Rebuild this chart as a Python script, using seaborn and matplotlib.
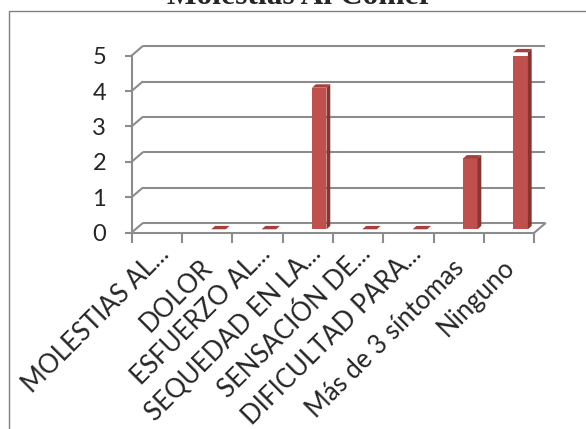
import numpy as np
import pandas as pd
import matplotlib
matplotlib.use("Agg")
import matplotlib.pyplot as plt
import matplotlib.transforms as mtransforms
from matplotlib.patches import Polygon, Rectangle
import seaborn as sns

categories = ["MOLESTIAS AL...", "DOLOR", "ESFUERZO AL...", "SEQUEDAD EN LA...",
              "SENSACIÓN DE...", "DIFICULTAD PARA...", "Más de 3 síntomas", "Ninguno"]
values = [np.nan, 0, 0, 4, 0, 0, 2, 5]
y_ticks = [0, 1, 2, 3, 4, 5]
title = "Molestias Al Comer"

sns.set_style("white")
plt.rcParams['font.family'] = ['Lato', 'DejaVu Sans']

W, H = 586, 429
fig = plt.figure(figsize=(W / 100, H / 100), dpi=100)
x0_px, x1_px = 131.5, 534.3
y0_px, y5_px = 232.7, 55.7
ax = fig.add_axes([x0_px / W, 1 - y0_px / H, (x1_px - x0_px) / W, (y0_px - y5_px) / H])

n = len(categories)
cat_px = (x1_px - x0_px) / n
unit_px = (y0_px - y5_px) / 5

grid_col = "#8c8c8c"
front_col = "#C0504D"
side_col = "#8A3432"
top_col = "#A4413E"

df = pd.DataFrame({"cat": categories, "val": values}).dropna()
sns.barplot(data=df, x="cat", y="val", order=categories, color=front_col,
            saturation=1, width=14.5 / cat_px, ax=ax, linewidth=0, zorder=5)

ax.set_xlim(-0.5, n - 0.5)
ax.set_ylim(0, 5)

# depth offsets
ddx = 11 / cat_px
ddy = 9.4 / unit_px
for y in y_ticks:
    ax.plot([-0.5 + ddx, n - 0.5 + ddx], [y + ddy, y + ddy], color=grid_col,
            lw=1.5, clip_on=False, zorder=1, solid_capstyle='butt')
    ax.plot([-0.5, -0.5 + ddx], [y, y + ddy], color=grid_col, lw=1.5,
            clip_on=False, zorder=1)
ax.plot([n - 0.5, n - 0.5 + ddx], [0, ddy], color=grid_col, lw=1.5,
        clip_on=False, zorder=1)

# pseudo-3D bars
bx = 11.5 / cat_px
by = 3.4 / unit_px
sdx = 3.8 / cat_px
sdy = 3.4 / unit_px
for p in ax.patches:
    h = p.get_height()
    if not np.isfinite(h):
        continue
    p.set_x(p.get_x() + bx)
    p.set_y(by)
    xl = p.get_x()
    w = p.get_width()
    b = by
    t = by + h
    top = Polygon([[xl, t], [xl + w, t], [xl + w + sdx, t + sdy], [xl + sdx, t + sdy]],
                  closed=True, facecolor=top_col, edgecolor='none', clip_on=False, zorder=6)
    ax.add_patch(top)
    if h > 0:
        side = Polygon([[xl + w, b], [xl + w, t], [xl + w + sdx, t + sdy], [xl + w + sdx, b + sdy]],
                       closed=True, facecolor=side_col, edgecolor='none', clip_on=False, zorder=6)
        ax.add_patch(side)

# spines / axes
for s in ["top", "right"]:
    ax.spines[s].set_visible(False)
for s in ["left", "bottom"]:
    ax.spines[s].set_color(grid_col)
    ax.spines[s].set_linewidth(1.5)
    ax.spines[s].set_zorder(2)

ax.set_yticks(y_ticks)
ax.set_yticklabels([str(v) for v in y_ticks], fontsize=17)
ax.tick_params(axis='y', length=5.3, width=1.5, color=grid_col, pad=13, left=True)

ax.set_xticks(range(n))
ax.set_xticks(np.arange(-0.5, n, 1.0), minor=True)
ax.set_xticklabels(categories, rotation=45, ha='right', va='center',
                   rotation_mode='anchor', fontsize=18.5)
ax.tick_params(axis='x', which='major', length=0, pad=0)
ax.tick_params(axis='x', which='minor', length=7, width=1.5, color=grid_col, bottom=True)
for lab in ax.get_xticklabels():
    if lab.get_text().endswith("..."):
        off = mtransforms.ScaledTranslation(9 / 100, -17 / 100, fig.dpi_scale_trans)
    else:
        off = mtransforms.ScaledTranslation(1 / 100, -31 / 100, fig.dpi_scale_trans)
    lab.set_transform(lab.get_transform() + off)

ax.set_xlabel("")
ax.set_ylabel("")
ax.grid(False)

# outer frame
fig.add_artist(Rectangle((9 / W, -0.2), 1.5, 1.2 - 11 / H, transform=fig.transFigure,
                         fill=False, edgecolor="#808080", lw=1.0))

fig.text(300 / W, 1 - 4.5 / H, title, ha='center', va='baseline', fontsize=22.6,
         fontweight='bold', family=['Liberation Serif', 'DejaVu Serif'])

fig.savefig("out.png", dpi=100)
